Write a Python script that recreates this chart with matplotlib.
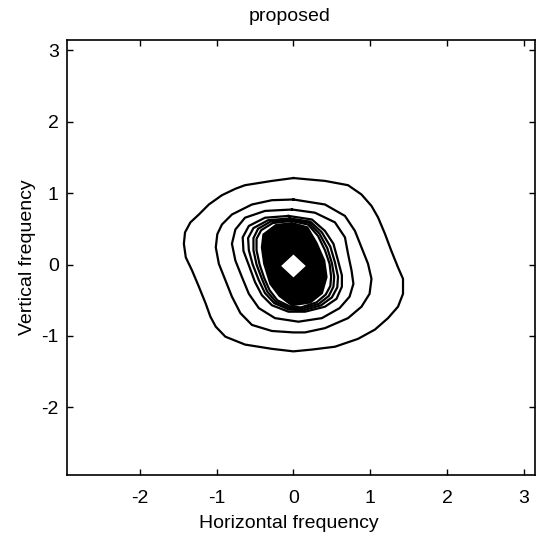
import matplotlib
matplotlib.use("Agg")
import matplotlib.pyplot as plt

plt.rcParams['font.family'] = ['Liberation Sans', 'DejaVu Sans']

title = "proposed"
xlabel = "Horizontal frequency"
ylabel = "Vertical frequency"
x_ticks = [-2, -1, 0, 1, 2, 3]
y_ticks = [-2, -1, 0, 1, 2, 3]
axis_min = -2.945
axis_max = 3.1416

# Contour lines (outer to inner), as (x, y) points
c1 = [(0.00, 1.21), (0.41, 1.17), (0.71, 1.11), (0.885, 0.98), (1.015, 0.82),
      (1.10, 0.66), (1.19, 0.43), (1.27, 0.20), (1.36, -0.04), (1.425, -0.20),
      (1.425, -0.41), (1.36, -0.59), (1.23, -0.75), (1.06, -0.91), (0.84, -1.04),
      (0.54, -1.15), (0.24, -1.19), (0.00, -1.215), (-0.28, -1.18), (-0.63, -1.12),
      (-0.885, -1.01), (-1.01, -0.87), (-1.08, -0.73), (-1.14, -0.55), (-1.23, -0.31),
      (-1.32, -0.08), (-1.40, 0.10), (-1.425, 0.29), (-1.41, 0.45), (-1.34, 0.59),
      (-1.23, 0.70), (-1.10, 0.84), (-0.93, 0.97), (-0.755, 1.06), (-0.63, 1.11),
      (-0.28, 1.17)]
c2 = [(0.00, 0.91), (0.41, 0.84), (0.67, 0.68), (0.80, 0.47), (0.885, 0.24),
      (0.97, 0.01), (1.015, -0.20), (0.99, -0.41), (0.885, -0.59), (0.71, -0.75),
      (0.41, -0.89), (0.15, -0.95), (0.00, -0.95), (-0.28, -0.93), (-0.54, -0.845),
      (-0.69, -0.68), (-0.80, -0.45), (-0.885, -0.22), (-0.97, 0.01), (-1.01, 0.24),
      (-0.99, 0.425), (-0.93, 0.56), (-0.80, 0.70), (-0.54, 0.84), (-0.28, 0.90)]
c3 = [(-0.02, 0.77), (0.28, 0.725), (0.54, 0.59), (0.67, 0.38), (0.71, 0.15),
      (0.755, -0.08), (0.78, -0.27), (0.73, -0.45), (0.60, -0.61), (0.37, -0.75),
      (0.065, -0.80), (-0.24, -0.75), (-0.45, -0.61), (-0.58, -0.41), (-0.67, -0.175),
      (-0.755, 0.055), (-0.80, 0.29), (-0.755, 0.49), (-0.63, 0.655), (-0.37, 0.75)]
c4 = [(-0.065, 0.68), (0.24, 0.63), (0.41, 0.47), (0.52, 0.29), (0.58, 0.055),
      (0.63, -0.15), (0.63, -0.31), (0.56, -0.48), (0.41, -0.59), (0.15, -0.66),
      (-0.065, -0.66), (-0.28, -0.57), (-0.41, -0.43), (-0.50, -0.245), (-0.58, -0.01),
      (-0.65, 0.19), (-0.66, 0.38), (-0.58, 0.54), (-0.37, 0.655)]
c5 = [(-0.05, 0.645), (0.22, 0.60), (0.37, 0.45), (0.48, 0.25), (0.54, 0.03),
      (0.58, -0.17), (0.57, -0.32), (0.50, -0.46), (0.36, -0.57), (0.13, -0.64),
      (-0.06, -0.63), (-0.25, -0.54), (-0.37, -0.40), (-0.45, -0.22), (-0.53, 0.00),
      (-0.58, 0.20), (-0.59, 0.37), (-0.52, 0.51), (-0.33, 0.62)]
c6 = [(-0.04, 0.625), (0.20, 0.585), (0.34, 0.43), (0.44, 0.23), (0.50, 0.02),
      (0.53, -0.17), (0.52, -0.31), (0.46, -0.44), (0.33, -0.55), (0.11, -0.62),
      (-0.05, -0.61), (-0.23, -0.52), (-0.34, -0.38), (-0.41, -0.20), (-0.48, 0.00),
      (-0.52, 0.20), (-0.52, 0.37), (-0.46, 0.50), (-0.30, 0.60)]
c7 = [(-0.03, 0.61), (0.19, 0.56), (0.32, 0.40), (0.41, 0.20), (0.47, 0.01),
      (0.49, -0.17), (0.48, -0.30), (0.42, -0.42), (0.30, -0.53), (0.10, -0.60),
      (-0.04, -0.59), (-0.21, -0.50), (-0.31, -0.36), (-0.38, -0.19), (-0.44, 0.00),
      (-0.48, 0.20), (-0.48, 0.36), (-0.42, 0.48), (-0.27, 0.58)]
core = [(-0.02, 0.58), (0.18, 0.52), (0.30, 0.30), (0.40, 0.055), (0.43, -0.175),
        (0.37, -0.40), (0.22, -0.53), (-0.02, -0.57), (-0.18, -0.44), (-0.30, -0.27),
        (-0.38, 0.01), (-0.41, 0.24), (-0.39, 0.42), (-0.23, 0.55)]
peak = [(0.00, 0.14), (0.16, -0.02), (0.00, -0.18), (-0.16, -0.02)]

contours = [c1, c2, c3, c4, c5, c6, c7]

fig = plt.figure(figsize=(5.44, 5.37), dpi=100)
ax = fig.add_axes([67/544, 1 - 475/537, (535 - 67)/544, (475 - 40)/537])

for c in contours:
    xs = [p[0] for p in c] + [c[0][0]]
    ys = [p[1] for p in c] + [c[0][1]]
    ax.plot(xs, ys, color='black', lw=1.6, solid_joinstyle='round')

ax.fill([p[0] for p in core], [p[1] for p in core], color='black', lw=1.6, ec='black')
ax.fill([p[0] for p in peak], [p[1] for p in peak], color='white', lw=0)

ax.set_xlim(axis_min, axis_max)
ax.set_ylim(axis_min, axis_max)
ax.set_xticks(x_ticks)
ax.set_yticks(y_ticks)
ax.set_xticklabels([str(t) for t in x_ticks])
ax.set_yticklabels([str(t) for t in y_ticks])
ax.tick_params(direction='in', top=True, right=True, labelsize=14, length=4, width=1)
ax.tick_params(axis='x', pad=11)
ax.tick_params(axis='y', pad=6)
for s in ax.spines.values():
    s.set_linewidth(1.2)
ax.set_title(title, fontsize=14, pad=14, x=0.476)
ax.set_xlabel(xlabel, fontsize=14, labelpad=6)
ax.xaxis.set_label_coords(0.473, -0.093)
ax.set_ylabel(ylabel, fontsize=14, labelpad=4)

fig.savefig("out.png", dpi=100)
